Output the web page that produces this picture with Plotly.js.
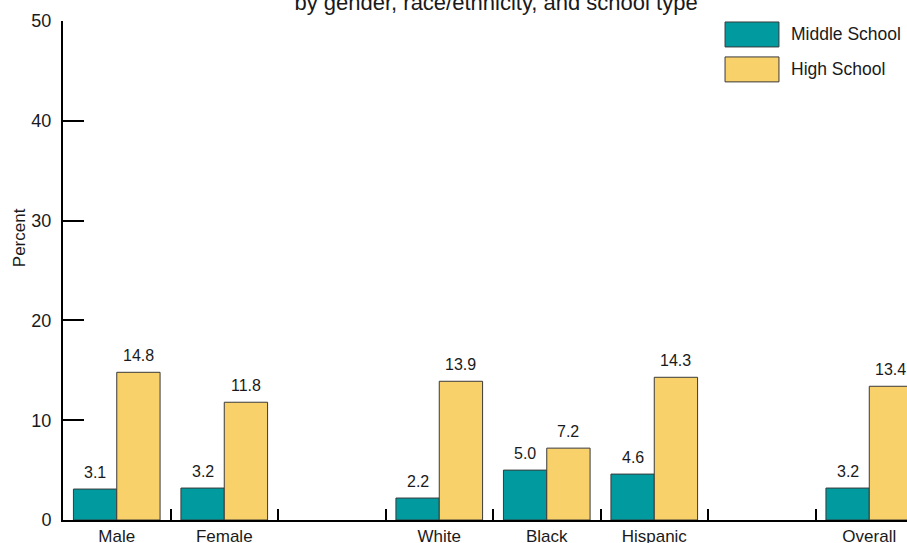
<!DOCTYPE html>
<html>
<head>
<meta charset="utf-8">
<script src="https://cdn.plot.ly/plotly-3.0.1.min.js"></script>
<style>
  html, body { margin: 0; padding: 0; background: #ffffff; }
  #chart { width: 907px; height: 543px; }
</style>
</head>
<body>
<div id="chart"></div>
<script>
// ---- data ----
const categories = ["Male", "Female", "gap1", "White", "Black", "Hispanic", "gap2", "Overall"];
const tickLabels = ["Male", "Female", "", "White", "Black", "Hispanic", "", "Overall"];
const seriesNames = ["Middle School", "High School"];
const middleSchool = [3.1, 3.2, null, 2.2, 5.0, 4.6, null, 3.2];
const highSchool = [14.8, 11.8, null, 13.9, 7.2, 14.3, null, 13.4];
const yTicks = [0, 10, 20, 30, 40, 50];
const titleText = "by gender, race/ethnicity, and school type";
const yTitle = "Percent";

// ---- styles ----
const colors = ["#009a9f", "#f9d16b"];
const outline = "#3a3a3a";
const textColor = "#1a1a1a";
const fontFamily = "Arial, 'Liberation Sans', sans-serif";

const seriesValues = [middleSchool, highSchool];

const traces = seriesValues.map((vals, i) => ({
  type: "bar",
  name: seriesNames[i],
  x: categories,
  y: vals,
  marker: { color: colors[i], line: { color: outline, width: 1 } },
  hoverinfo: "x+y+name",
  showlegend: false
}));

// value labels above bars
const barOffsetPx = 21.7;
const annotations = [];
seriesValues.forEach((vals, i) => {
  vals.forEach((v, j) => {
    if (v === null) return;
    annotations.push({
      x: categories[j], y: v, xref: "x", yref: "y",
      text: v.toFixed(1),
      showarrow: false,
      xanchor: "center", yanchor: "middle",
      xshift: i === 0 ? -barOffsetPx : barOffsetPx,
      yshift: 17,
      font: { family: fontFamily, size: 16, color: textColor }
    });
  });
});

// y axis title
annotations.push({
  x: -0.052, y: 0.565, xref: "paper", yref: "paper",
  text: yTitle, textangle: -90, showarrow: false,
  xanchor: "center", yanchor: "middle",
  font: { family: fontFamily, size: 17, color: textColor }
});

// custom legend
const legendBoxes = [
  { y0: 0.948, y1: 0.998, ty: 0.974 },
  { y0: 0.878, y1: 0.928, ty: 0.904 }
];
const shapes = [];
seriesNames.forEach((name, i) => {
  const b = legendBoxes[i];
  shapes.push({
    type: "rect", xref: "paper", yref: "paper",
    x0: 0.7844, x1: 0.8483, y0: b.y0, y1: b.y1,
    fillcolor: colors[i], line: { color: outline, width: 1 }
  });
  annotations.push({
    x: 0.8602, y: b.ty, xref: "paper", yref: "paper",
    text: name, showarrow: false, xanchor: "left", yanchor: "middle",
    font: { family: fontFamily, size: 17.5, color: textColor }
  });
});

const layout = {
  width: 907, height: 543,
  margin: { l: 63, r: 0, t: 21, b: 23, pad: 0 },
  paper_bgcolor: "#ffffff", plot_bgcolor: "#ffffff",
  font: { family: fontFamily, color: textColor },
  title: {
    text: titleText,
    xref: "container", yref: "container",
    x: 0.5469, xanchor: "center",
    y: 0.9958, yanchor: "middle",
    font: { family: fontFamily, size: 22, color: textColor }
  },
  barmode: "group",
  bargap: 0.194,
  bargroupgap: 0,
  showlegend: false,
  xaxis: {
    type: "category",
    range: [-0.5, 7.351],
    tickmode: "array",
    tickvals: categories,
    ticktext: tickLabels,
    tickson: "boundaries",
    ticks: "inside", ticklen: 11, tickwidth: 2, tickcolor: "#000",
    showline: true, linewidth: 2, linecolor: "#000",
    showgrid: false, zeroline: false,
    tickfont: { family: fontFamily, size: 17, color: textColor },
    fixedrange: true
  },
  yaxis: {
    range: [0, 50],
    tickmode: "array",
    tickvals: yTicks,
    ticktext: yTicks.map(String),
    ticks: "inside", ticklen: 21, tickwidth: 2, tickcolor: "#000",
    showline: true, linewidth: 2, linecolor: "#000",
    showgrid: false, zeroline: false,
    ticklabelstandoff: 6,
    tickfont: { family: fontFamily, size: 18, color: textColor },
    fixedrange: true
  },
  annotations: annotations,
  shapes: shapes
};

Plotly.newPlot("chart", traces, layout, { displayModeBar: false, staticPlot: true });
</script>
</body>
</html>
